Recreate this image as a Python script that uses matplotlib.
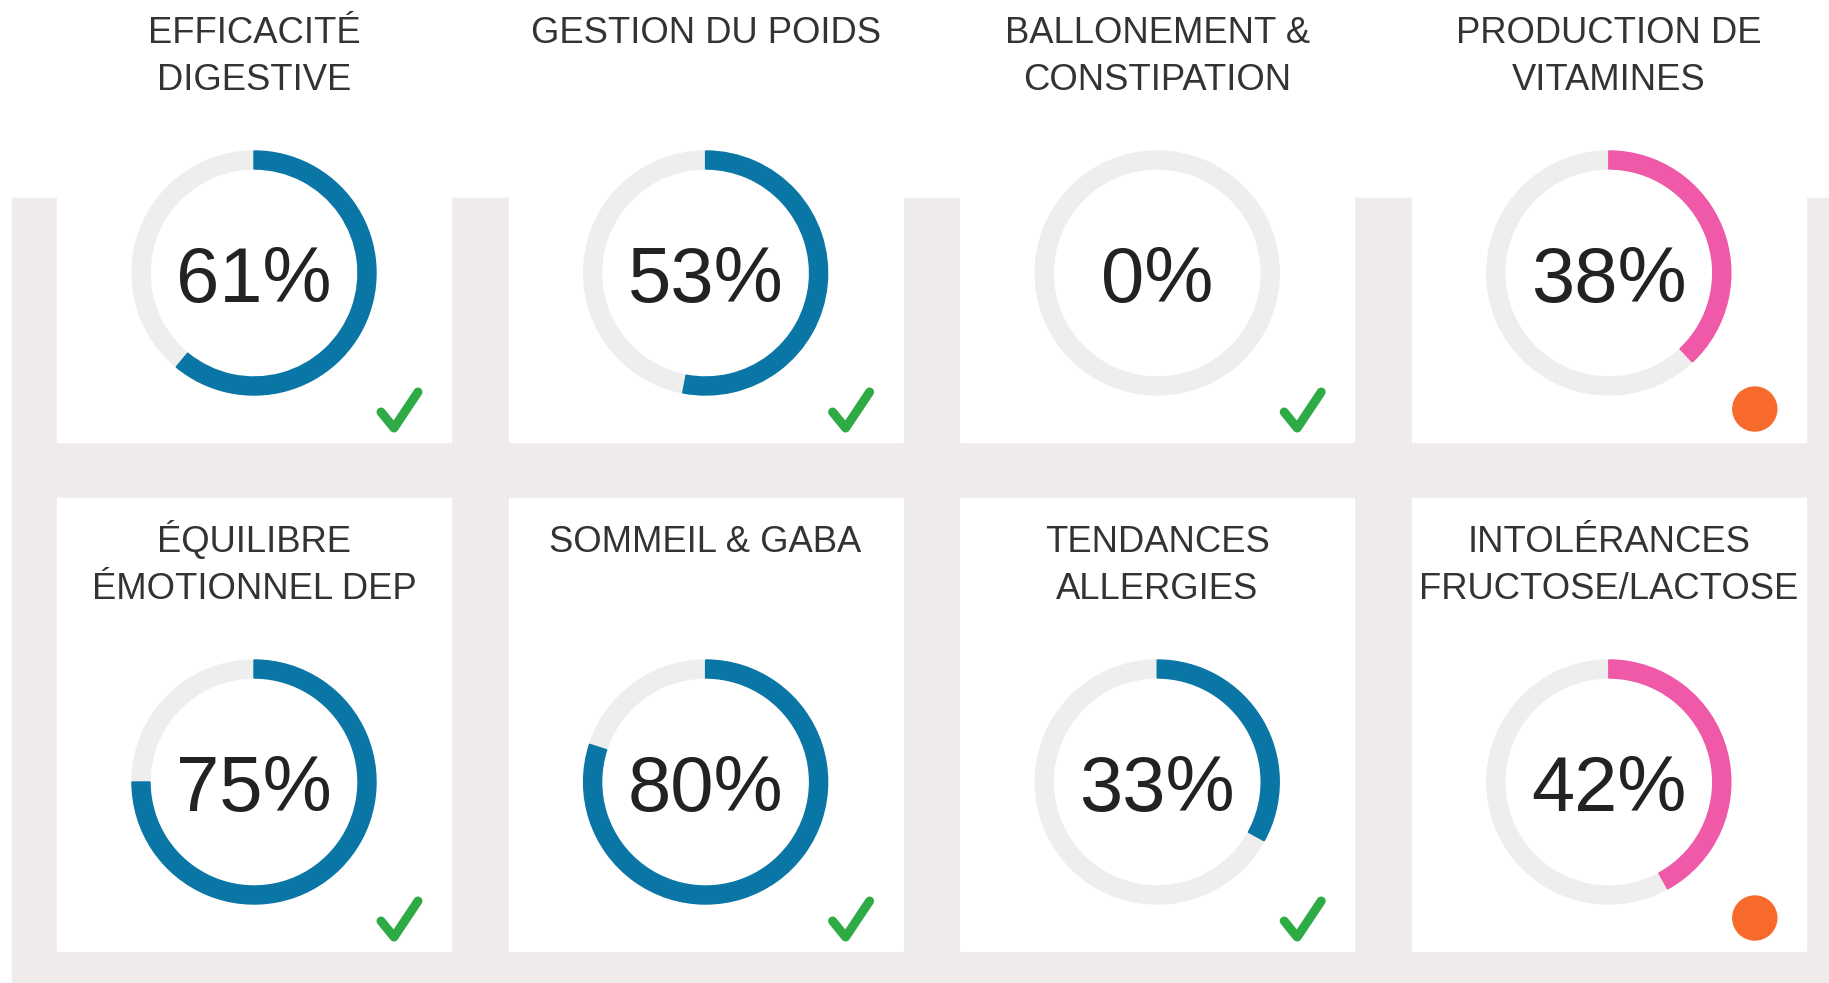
import matplotlib
matplotlib.use("Agg")
import matplotlib.pyplot as plt
from matplotlib.patches import Rectangle, Wedge, Circle

# ---- data ----
titles = ["EFFICACITÉ\nDIGESTIVE", "GESTION DU POIDS", "BALLONEMENT &\nCONSTIPATION",
          "PRODUCTION DE\nVITAMINES", "ÉQUILIBRE\nÉMOTIONNEL DEP", "SOMMEIL & GABA",
          "TENDANCES\nALLERGIES", "INTOLÉRANCES\nFRUCTOSE/LACTOSE"]
values = [61, 53, 0, 38, 75, 80, 33, 42]
status = ["ok", "ok", "ok", "warn", "ok", "ok", "ok", "warn"]

# ---- style ----
W, H = 1829, 983
BG = "#efebea"
BLUE = "#0a76a6"
PINK = "#f058a8"
TRACK = "#eeeeee"
GREEN = "#2fab45"
ORANGE = "#f76a2c"

plt.rcParams['font.family'] = ['Liberation Sans', 'DejaVu Sans']

fig = plt.figure(figsize=(W / 100, H / 100), dpi=100)
ax = fig.add_axes([0, 0, 1, 1])
ax.set_xlim(0, W)
ax.set_ylim(0, H)
ax.set_aspect('equal')
ax.axis('off')

def Y(y):  # convert top-based pixel to axis coordinate
    return H - y

# gray background
ax.add_patch(Rectangle((12, Y(H)), W - 12, H - 198, color=BG, zorder=0))

card_w = 394
pitch_x = 451.6
card_tops = [-11, 498]
card_h = 453
r_out, ring_w = 122, 18

for i, (t, v, s) in enumerate(zip(titles, values, status)):
    row, col = divmod(i, 4)
    x0 = 57 + col * pitch_x
    top = card_tops[row]
    bottom = top + card_h
    cx = x0 + card_w / 2
    ax.add_patch(Rectangle((x0, Y(bottom)), card_w, card_h, color="white", zorder=1))

    # title lines
    for k, line in enumerate(t.split("\n")):
        ax.text(cx, Y(top + 54 + 47 * k), line, ha='center', va='baseline',
                fontsize=26.2, color="#333333", zorder=3)

    # ring
    cy = top + 284
    ax.add_patch(Wedge((cx, Y(cy)), r_out, 0, 360, width=ring_w, color=TRACK, zorder=2))
    col_arc = PINK if s == "warn" else BLUE
    if v > 0:
        ax.add_patch(Wedge((cx, Y(cy)), r_out, 90 - 360 * v / 100, 90, width=ring_w,
                           color=col_arc, zorder=2.5))
    ax.text(cx, Y(cy + 29), f"{v}%", ha='center', va='baseline', fontsize=56,
            color="#222222", zorder=3)

    right = x0 + card_w
    if s == "ok":
        xs = [right - 70, right - 57, right - 33]
        ys = [Y(bottom - 30), Y(bottom - 14), Y(bottom - 50)]
        ax.plot(xs, ys, color=GREEN, lw=6.5, solid_capstyle='round',
                solid_joinstyle='round', zorder=3)
    else:
        ax.add_patch(Circle((right - 51, Y(bottom - 33)), 22, color=ORANGE, zorder=3))

fig.savefig("out.png", dpi=100, facecolor="white")
